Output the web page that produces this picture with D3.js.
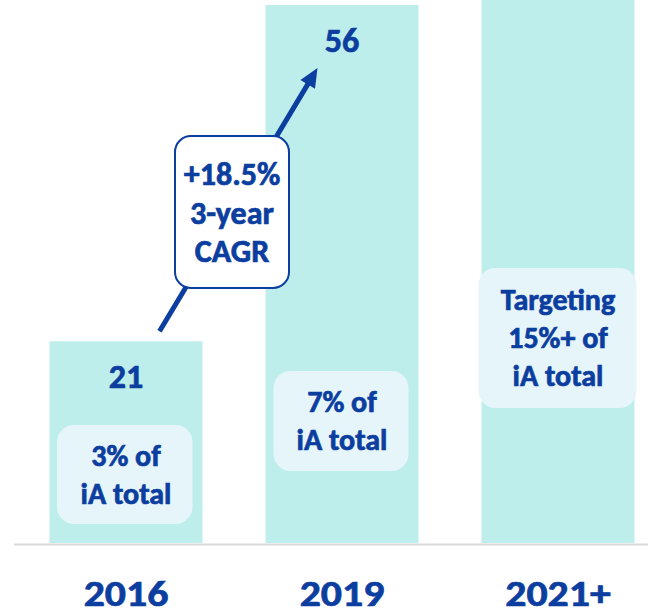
<!DOCTYPE html>
<html>
<head>
<meta charset="utf-8">
<script src="https://cdn.jsdelivr.net/npm/d3@7"></script>
<style>
  body { margin: 0; background: #fff; }
  text { font-family: Carlito, Lato, "Open Sans", sans-serif; font-weight: bold; fill: #0b3e9f;
         stroke: #0b3e9f; stroke-width: 0.7px; }
</style>
</head>
<body>
<svg width="648" height="616"></svg>
<script>
// data
var years = ["2016", "2019", "2021+"];
var values = [21, 56, 62];           // 2021+ is a target, bar runs off the top
var valueLabels = ["21", "56", ""];
var shareLabels = [["3% of", "iA total"], ["7% of", "iA total"], ["Targeting", "15%+ of", "iA total"]];
var cagrLabel = ["+18.5%", "3-year", "CAGR"];

var svg = d3.select("svg"),
    baseY = 543;

var x = d3.scaleBand().domain(years).range([18, 666]).paddingInner(0.2917).paddingOuter(0.14585),
    y = d3.scaleLinear().domain([0, 56]).range([baseY, 5]);

var blue = "#0b3e9f";

// bars
svg.selectAll(".bar")
  .data(values)
  .enter().append("rect")
    .attr("class", "bar")
    .attr("x", function(d, i) { return x(years[i]); })
    .attr("y", function(d) { return y(d); })
    .attr("width", x.bandwidth())
    .attr("height", function(d) { return baseY - y(d); })
    .attr("fill", "#beeeec");

// baseline
svg.append("line")
  .attr("x1", 14).attr("x2", 648)
  .attr("y1", baseY + 1.5).attr("y2", baseY + 1.5)
  .attr("stroke", "#d9d9d9").attr("stroke-width", 2);

// year labels (stretched a bit to match the wide bold face)
svg.selectAll(".year")
  .data(years)
  .enter().append("text")
    .attr("class", "year")
    .attr("transform", function(d) {
      return "translate(" + (x(d) + x.bandwidth() / 2) + ",606) scale(1.16,1)";
    })
    .attr("text-anchor", "middle")
    .style("font-size", "36px")
    .text(function(d) { return d; });

// value labels
svg.selectAll(".val")
  .data(values)
  .enter().append("text")
    .attr("class", "val")
    .attr("x", function(d, i) { return x(years[i]) + x.bandwidth() / 2; })
    .attr("y", function(d) { return y(d) + 47; })
    .attr("text-anchor", "middle")
    .style("font-size", "34px")
    .text(function(d, i) { return valueLabels[i]; });

// share boxes
var boxes = [
  {top: 425, h: 99, l: 7.5, r: 10},
  {top: 371, h: 100, l: 8, r: 10},
  {top: 268, h: 140, l: -3, r: -2}
];
var lineGap = 38;

boxes.forEach(function(b, i) {
  var bx = x(years[i]) + b.l,
      bw = x.bandwidth() - b.l - b.r;
  svg.append("rect")
    .attr("x", bx).attr("y", b.top)
    .attr("width", bw).attr("height", b.h)
    .attr("rx", 17)
    .attr("fill", "#e6f5fa");
  var lines = shareLabels[i],
      first = b.top + b.h / 2 - (lines.length - 1) * lineGap / 2 + 10;
  svg.append("text")
    .attr("text-anchor", "middle")
    .style("font-size", "30px")
    .selectAll("tspan")
    .data(lines)
    .enter().append("tspan")
      .attr("x", x(years[i]) + x.bandwidth() / 2)
      .attr("y", function(d, j) { return first + j * lineGap; })
      .text(function(d) { return d; });
});

// CAGR arrow from the 2016 bar to the 2019 label
var p0 = [x(years[0]) + 110, y(values[0]) - 10],
    p1 = [x(years[1]) + 52, y(values[1]) + 63];
var dx = p1[0] - p0[0], dy = p1[1] - p0[1], len = Math.sqrt(dx * dx + dy * dy),
    ux = dx / len, uy = dy / len;
var headL = 19, headW = 8.5;
svg.append("line")
  .attr("x1", p0[0]).attr("y1", p0[1])
  .attr("x2", p1[0] - ux * (headL - 4)).attr("y2", p1[1] - uy * (headL - 4))
  .attr("stroke", blue).attr("stroke-width", 5);
var hb = [p1[0] - ux * headL, p1[1] - uy * headL];
svg.append("path")
  .attr("d", "M" + p1[0] + "," + p1[1] +
             "L" + (hb[0] - uy * headW) + "," + (hb[1] + ux * headW) +
             "L" + (hb[0] + uy * headW) + "," + (hb[1] - ux * headW) + "Z")
  .attr("fill", blue);

// CAGR box
svg.append("rect")
  .attr("x", 175).attr("y", 136)
  .attr("width", 114).attr("height", 152)
  .attr("rx", 16)
  .attr("fill", "#fff")
  .attr("stroke", blue).attr("stroke-width", 2);
svg.append("text")
  .attr("text-anchor", "middle")
  .style("font-size", "32px")
  .selectAll("tspan")
  .data(cagrLabel)
  .enter().append("tspan")
    .attr("x", 232)
    .attr("y", function(d, j) { return 185 + j * 38.5; })
    .text(function(d) { return d; });
</script>
</body>
</html>
